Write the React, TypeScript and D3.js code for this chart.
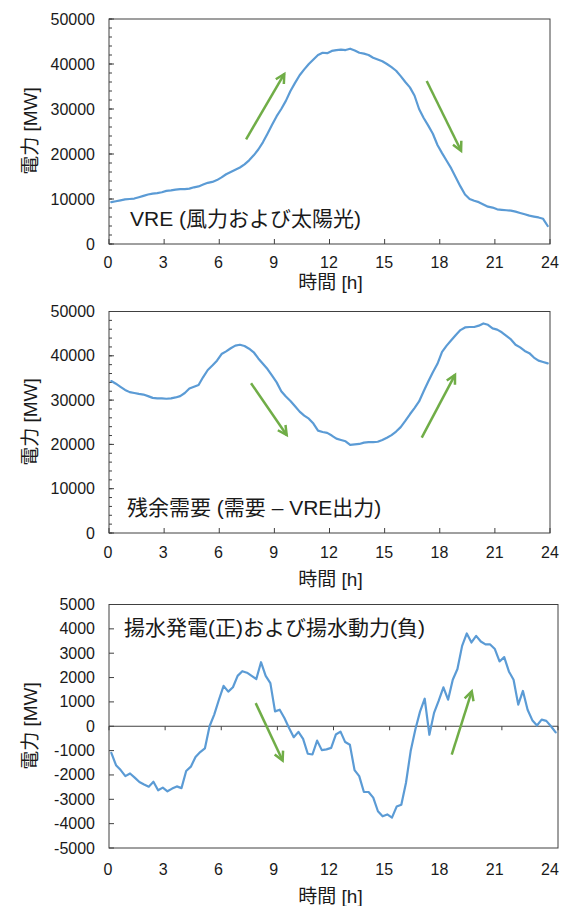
import React from 'react';
import * as d3 from 'd3';

// ---------- data (96 quarter-hour values, 0:00-24:00) ----------
const xTickHours = [0, 3, 6, 9, 12, 15, 18, 21, 24];
const yTicksLarge = [0, 10000, 20000, 30000, 40000, 50000];
const yTicksPumped = [-5000, -4000, -3000, -2000, -1000, 0, 1000, 2000, 3000, 4000, 5000];

const vre = [
  9300, 9500, 9700, 9900, 10000, 10100, 10400, 10700, 11000, 11200, 11300, 11500,
  11800, 11900, 12100, 12200, 12200, 12300, 12600, 12800, 13200, 13600, 13800, 14200,
  14800, 15500, 16000, 16500, 17000, 17700, 18600, 19700, 21000, 22600, 24500, 26500,
  28400, 30000, 31800, 34000, 35800, 37500, 38800, 40000, 41000, 42000, 42500, 42400,
  42900, 43100, 43200, 43100, 43400, 43000, 42500, 42300, 42000, 41400, 41000, 40600,
  40000, 39300, 38500, 37300, 36000, 34800, 33000, 30000, 28000, 26300, 24500, 22000,
  20200, 18500, 16800, 14800, 12800, 11000, 10000, 9600, 9300, 8800, 8300, 8100,
  7700, 7600, 7500, 7400, 7200, 6900, 6600, 6300, 6100, 5900, 5600, 4000,
];

const residual = [
  34300, 33700, 33000, 32300, 31800, 31600, 31400, 31250, 30900, 30500, 30400, 30400,
  30300, 30400, 30600, 30900, 31600, 32600, 33000, 33400, 35200, 36800, 37800, 38900,
  40400, 41000, 41700, 42300, 42500, 42200, 41600, 40800, 39400, 38200, 37000, 35500,
  34000, 32000, 30800, 29800, 28600, 27400, 26500, 25800, 24700, 23100, 22800, 22600,
  22000, 21300, 21000, 20700, 19900, 20000, 20100, 20400, 20500, 20500, 20600, 21000,
  21500, 22100, 22900, 23900, 25300, 26800, 28200, 29700, 32000, 34200, 36300, 38200,
  40900, 42300, 43500, 44700, 45800, 46400, 46500, 46500, 46800, 47300, 47000, 46200,
  45900, 45300, 44500, 43700, 42500, 41900, 41100, 40600, 39600, 38900, 38600, 38300,
];

const pumped = [
  -1090, -1600, -1800, -2050, -1940, -2110, -2290, -2390, -2480, -2280, -2630, -2520,
  -2670, -2560, -2470, -2540, -1840, -1660, -1260, -1060, -910, 0, 480, 1090,
  1660, 1420, 1600, 2070, 2260, 2200, 2070, 1940, 2630, 2070, 1770, 610,
  680, 340, -70, -450, -230, -520, -1130, -1160, -590, -980, -950, -890,
  -340, -220, -650, -760, -1800, -2050, -2700, -2700, -2930, -3490, -3700, -3620,
  -3750, -3300, -3220, -2320, -1020, -130, 600, 1130, -350, 550, 1050, 1600,
  1090, 1910, 2350, 3300, 3810, 3440, 3710, 3480, 3360, 3360, 3170, 2660,
  2840, 2250, 1910, 890, 1450, 680, 250, 30, 270, 220, 0, -250,
];

const titleVre = 'VRE (風力および太陽光)';
const titleResidual = '残余需要 (需要 – VRE出力)';
const titlePumped = '揚水発電(正)および揚水動力(負)';
const xTitle = '時間 [h]';
const yTitle = '電力 [MW]';

// arrows in data coordinates [hour, MW]
const arrowsVre = [
  [7.46, 23270, 9.54, 37780],
  [17.29, 36220, 19.16, 20730],
];
const arrowsResidual = [
  [7.73, 33820, 9.67, 22140],
  [17.02, 21530, 18.83, 35700],
];
const arrowsPumped = [
  [7.84, 950, 9.28, -1410],
  [18.32, -1170, 19.39, 1430],
];

// ---------- styling ----------
const FONT = "'Liberation Sans', Arial, 'Noto Sans CJK JP', sans-serif";
const LINE_COLOR = '#5B9BD5';
const ARROW_COLOR = '#70AD47';
const AXIS_COLOR = '#404040';
const TEXT_COLOR = '#1a1a1a';

function Arrow({ x1, y1, x2, y2 }: { x1: number; y1: number; x2: number; y2: number }) {
  const ang = Math.atan2(y2 - y1, x2 - x1);
  const L = 10;
  const a = Math.PI / 6.5;
  const p1 = [x2 - L * Math.cos(ang - a), y2 - L * Math.sin(ang - a)];
  const p2 = [x2 - L * Math.cos(ang + a), y2 - L * Math.sin(ang + a)];
  return (
    <g stroke={ARROW_COLOR} strokeWidth={2.5} fill="none" strokeLinecap="butt">
      <line x1={x1} y1={y1} x2={x2} y2={y2} />
      <polyline points={`${p1[0]},${p1[1]} ${x2},${y2} ${p2[0]},${p2[1]}`} strokeLinejoin="miter" />
    </g>
  );
}

type PanelProps = {
  left: number; right: number; top: number; bottom: number;
  yDomain: [number, number]; yTicks: number[]; minorStep?: number;
  data: number[]; title: string; titleX: number; titleY: number;
  arrows: number[][]; xLabelY: number; xTitleY: number; yTitleY: number;
  zeroAxis?: boolean; labelRight?: number;
};

function Panel(p: PanelProps) {
  const x = d3.scaleLinear().domain([0, 24]).range([p.left, p.right]);
  const xLab = d3.scaleLinear().domain([0, 24]).range([p.left - 1, p.labelRight ?? p.right]);
  const y = d3.scaleLinear().domain(p.yDomain).range([p.bottom, p.top]);
  const n = p.data.length;
  const step = 24 / n;
  const line = d3.line<number>()
    .x((_, i) => x((i + 0.5) * step))
    .y((d) => y(d));
  const minor: number[] = [];
  if (p.minorStep) {
    for (let v = p.yDomain[0]; v <= p.yDomain[1]; v += p.minorStep) minor.push(v);
  }
  const xAxisY = p.zeroAxis ? y(0) : p.bottom;
  return (
    <g>
      <rect x={p.left} y={p.top} width={p.right - p.left} height={p.bottom - p.top}
        fill="none" stroke={AXIS_COLOR} strokeWidth={1} />
      {minor.map((v) => (
        <line key={'m' + v} x1={p.left} x2={p.left + 3} y1={y(v)} y2={y(v)} stroke={AXIS_COLOR} />
      ))}
      {p.yTicks.map((v) => (
        <line key={'t' + v} x1={p.left} x2={p.left + 5} y1={y(v)} y2={y(v)} stroke={AXIS_COLOR} />
      ))}
      {p.zeroAxis && (
        <line x1={p.left} x2={p.right} y1={y(0)} y2={y(0)} stroke={AXIS_COLOR} strokeWidth={1.2} />
      )}
      {xTickHours.map((h) => (
        p.zeroAxis
          ? <line key={'x' + h} x1={x(h)} x2={x(h)} y1={xAxisY} y2={xAxisY + 4} stroke={AXIS_COLOR} />
          : <line key={'x' + h} x1={x(h)} x2={x(h)} y1={xAxisY} y2={xAxisY - 5} stroke={AXIS_COLOR} />
      ))}
      <path d={line(p.data) ?? ''} fill="none" stroke={LINE_COLOR} strokeWidth={2.2}
        strokeLinejoin="round" strokeLinecap="round" />
      {p.arrows.map((a, i) => (
        <Arrow key={i} x1={x(a[0])} y1={y(a[1])} x2={x(a[2])} y2={y(a[3])} />
      ))}
      {p.yTicks.map((v) => (
        <text key={'yl' + v} x={95} y={y(v)} textAnchor="end" dominantBaseline="central"
          fontSize={16} fill={TEXT_COLOR}>{v}</text>
      ))}
      {xTickHours.map((h) => (
        <text key={'xl' + h} x={xLab(h)} y={p.xLabelY} textAnchor="middle" dominantBaseline="central"
          fontSize={16} fill={TEXT_COLOR}>{h}</text>
      ))}
      <text x={(p.left + 550) / 2 + 1} y={p.xTitleY} textAnchor="middle" dominantBaseline="central"
        fontSize={19} fill={TEXT_COLOR}>{xTitle}</text>
      <text transform={`translate(30,${p.yTitleY}) rotate(-90)`} textAnchor="middle"
        dominantBaseline="central" fontSize={19} fill={TEXT_COLOR}>{yTitle}</text>
      <text x={p.titleX} y={p.titleY} dominantBaseline="central" fontSize={21} fill={TEXT_COLOR}>{p.title}</text>
    </g>
  );
}

export default function App() {
  return (
    <svg width={563} height={906} style={{ position: 'absolute', left: 0, top: 0, background: '#fff' }}
      fontFamily={FONT}>
      <rect x={0} y={0} width={563} height={906} fill="#fff" />
      <Panel left={109} right={550} top={19} bottom={244} yDomain={[0, 50000]} yTicks={yTicksLarge}
        minorStep={2000} data={vre} title={titleVre} titleX={130} titleY={218} arrows={arrowsVre}
        xLabelY={262} xTitleY={282} yTitleY={131} />
      <Panel left={109} right={550} top={311.5} bottom={533} yDomain={[0, 50000]} yTicks={yTicksLarge}
        minorStep={2000} data={residual} title={titleResidual} titleX={127} titleY={507}
        arrows={arrowsResidual} xLabelY={552} xTitleY={579} yTitleY={422} />
      <Panel left={109} right={558} top={604.5} bottom={848} yDomain={[-5000, 5000]} yTicks={yTicksPumped}
        data={pumped} title={titlePumped} titleX={124} titleY={627} arrows={arrowsPumped}
        xLabelY={869} xTitleY={896} yTitleY={726} zeroAxis labelRight={550} />
    </svg>
  );
}
